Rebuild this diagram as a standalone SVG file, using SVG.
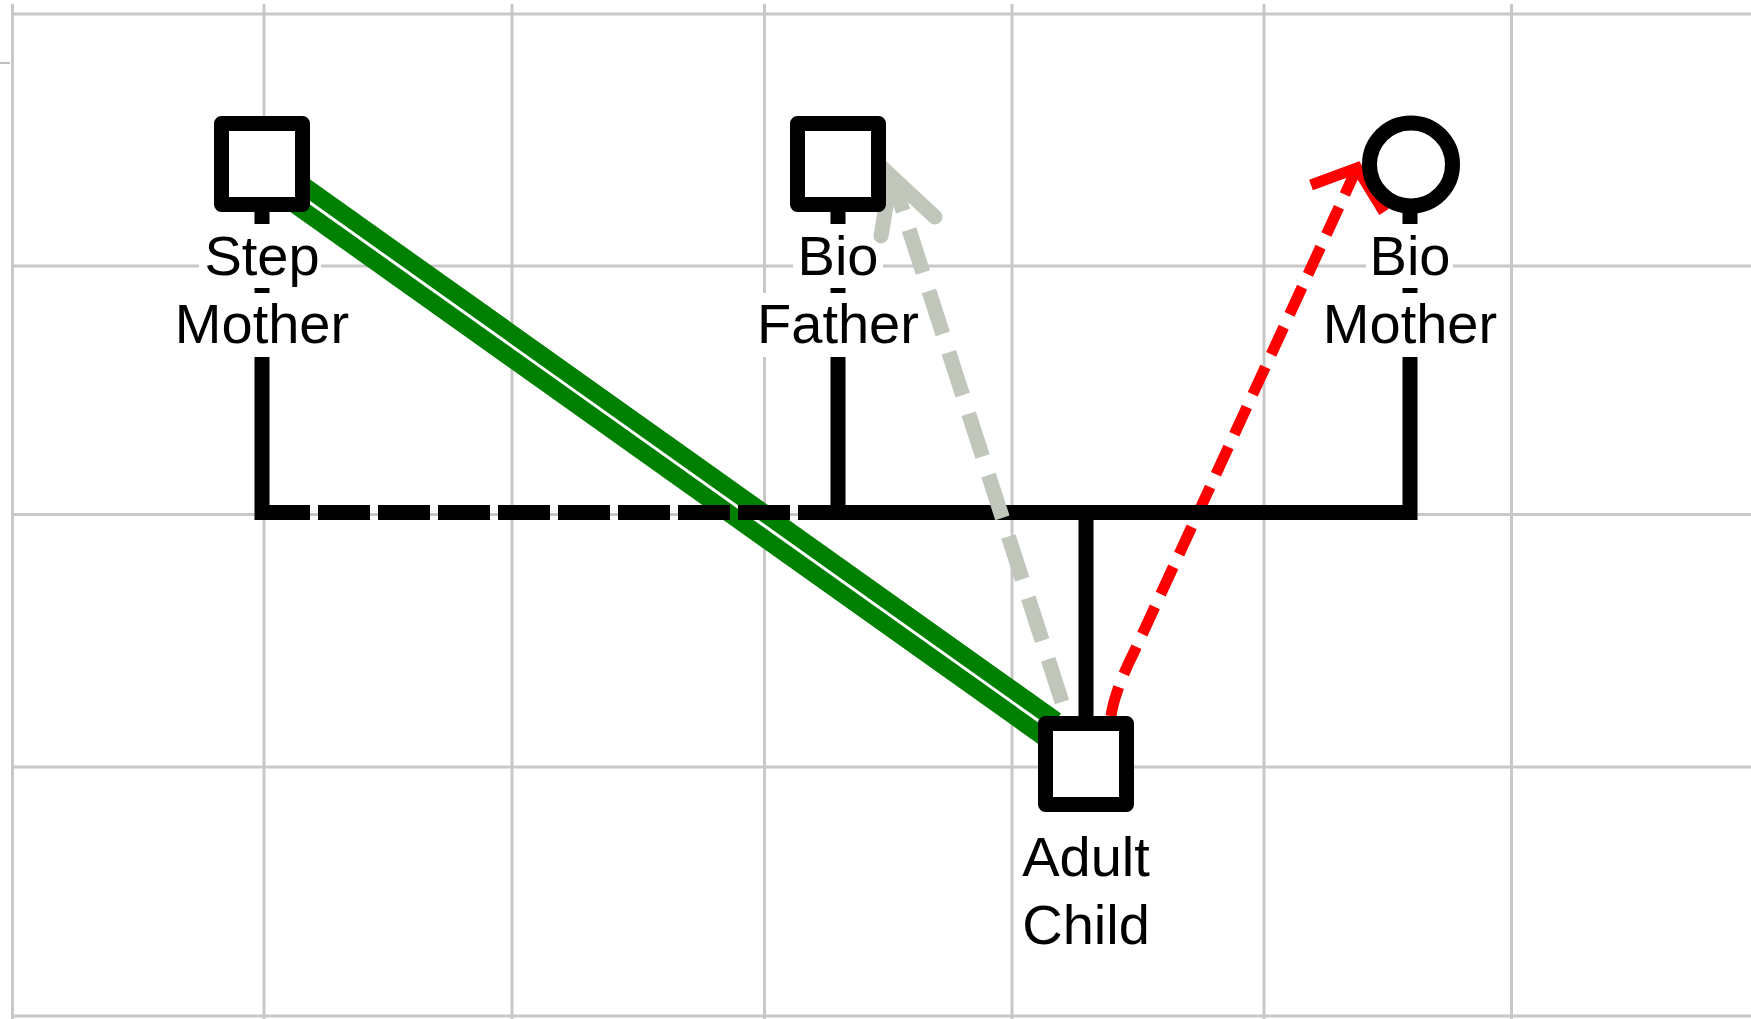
<svg xmlns="http://www.w3.org/2000/svg" width="1751" height="1019" viewBox="0 0 1751 1019">
<style>
.grid line{stroke:#c8c8c8;stroke-width:3}
.fam{fill:none;stroke:#000;stroke-width:15}
.shape{fill:#fff;stroke:#000;stroke-width:15;stroke-linejoin:round}
.lbl{font-family:"Liberation Sans",Arial,sans-serif;font-size:56px;text-anchor:middle;fill:#000}
.red{fill:none;stroke:#ff0000;stroke-width:11}
.gray{fill:none;stroke:#c0c6b9;stroke-width:15}
</style>
<rect width="1751" height="1019" fill="#fff"/>
<g class="grid">
<line x1="12.5" y1="4" x2="12.5" y2="1019"/>
<line x1="264" y1="4" x2="264" y2="224"/>
<line x1="264" y1="357" x2="264" y2="1019"/>
<line x1="512" y1="4" x2="512" y2="1019"/>
<line x1="764.5" y1="4" x2="764.5" y2="293"/>
<line x1="764.5" y1="357" x2="764.5" y2="1019"/>
<line x1="1012" y1="4" x2="1012" y2="1019"/>
<line x1="1264" y1="4" x2="1264" y2="1019"/>
<line x1="1511.5" y1="4" x2="1511.5" y2="1019"/>
<line x1="11" y1="14" x2="1751" y2="14"/>
<line x1="11" y1="266" x2="199" y2="266"/>
<line x1="321" y1="266" x2="793" y2="266"/>
<line x1="883" y1="266" x2="1366" y2="266"/>
<line x1="1453" y1="266" x2="1751" y2="266"/>
<line x1="11" y1="514.5" x2="1751" y2="514.5"/>
<line x1="11" y1="767" x2="1751" y2="767"/>
<line x1="11" y1="1016" x2="1751" y2="1016"/>
</g>
<line x1="0" y1="63" x2="10" y2="63" stroke="#808080" stroke-width="1"/>
<g id="connectors">
<g id="rel-close">
<path d="M 295 192 L 1050 729" fill="none" stroke="#008000" stroke-width="38"/>
<path d="M 295 192 L 1050 729" fill="none" stroke="#fff" stroke-width="3"/>
</g>
<g id="rel-hostile">
<path class="red" d="M 1111 716 C 1114 695 1125 670 1135 650 L 1357 168" stroke-dasharray="30 14"/>
<path class="red" d="M 1311 185 L 1357 168 L 1384 212" stroke-width="12" stroke-linejoin="miter"/>
</g>
<g id="family">
<path class="fam" d="M 262 200 V 224 M 262 288 V 293 M 262 357 V 520"/>
<path class="fam" d="M 258 512.5 H 838" stroke-dasharray="52 8"/>
<path class="fam" d="M 838 200 V 224 M 838 288 V 293 M 1410 200 V 224 M 1410 288 V 293"/>
<path class="fam" d="M 838 357 V 512.5 H 1410 V 357" stroke-linejoin="miter"/>
<path class="fam" d="M 1086 512.5 V 764"/>
</g>
<g id="rel-distant">
<path class="gray" d="M 1062 702 L 893 180" stroke-dasharray="45 19.5"/>
<path class="gray" d="M 881 236 L 891 176 L 935 217" stroke-linejoin="miter" stroke-linecap="round"/>
</g>
</g>
<g id="step-mother">
<rect class="shape" x="221.5" y="123.5" width="81" height="81"/>
<text class="lbl" x="262" y="275">Step</text>
<text class="lbl" x="262" y="343">Mother</text>
</g>
<g id="bio-father">
<rect class="shape" x="797.5" y="123.5" width="81" height="81"/>
<text class="lbl" x="838" y="275">Bio</text>
<text class="lbl" x="838" y="343">Father</text>
</g>
<g id="bio-mother">
<circle class="shape" cx="1411" cy="164.5" r="41.5"/>
<text class="lbl" x="1410" y="275">Bio</text>
<text class="lbl" x="1410" y="343">Mother</text>
</g>
<g id="adult-child">
<rect class="shape" x="1045.5" y="723.5" width="81" height="81"/>
<text class="lbl" x="1086" y="876">Adult</text>
<text class="lbl" x="1086" y="944">Child</text>
</g>
</svg>
